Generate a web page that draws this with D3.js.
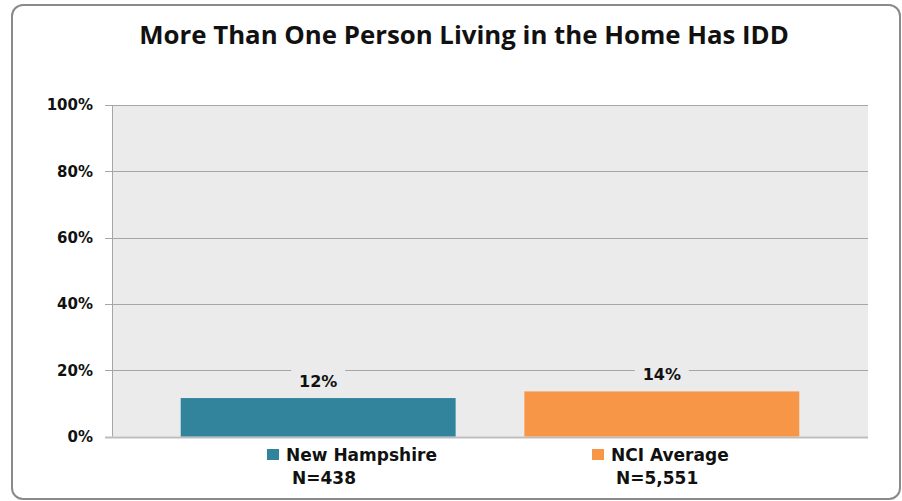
<!DOCTYPE html>
<html>
<head>
<meta charset="utf-8">
<script src="https://cdn.jsdelivr.net/npm/d3@7"></script>
<style>
body { margin: 0; background: #fff; }
</style>
</head>
<body>
<script>
var categories = ["New Hampshire", "NCI Average"];
var sampleSizes = ["N=438", "N=5,551"];
var values = [11.6, 13.6];
var valueLabels = ["12%", "14%"];
var yTicks = [0, 20, 40, 60, 80, 100];
var colors = ["#31849B", "#F79646"];

var width = 902, height = 501;
var plotLeft = 112, plotRight = 868, plotTop = 105, plotBottom = 436.5;

var svg = d3.select("body")
	.append("svg")
	.attr("width", width)
	.attr("height", height);

// outer frame
svg.append("rect")
	.attr("x", 12)
	.attr("y", 5)
	.attr("width", 888)
	.attr("height", 494)
	.attr("rx", 11)
	.attr("fill", "white")
	.attr("stroke", "#8a8a8a")
	.attr("stroke-width", 2);

svg.append("text")
	.attr("x", 464)
	.attr("y", 44)
	.attr("text-anchor", "middle")
	.attr("font-family", "Open Sans")
	.attr("font-weight", "bold")
	.attr("font-size", "25.8px")
	.attr("fill", "#111")
	.text("More Than One Person Living in the Home Has IDD");

var x = d3.scaleBand()
	.domain(categories)
	.range([plotLeft, plotRight])
	.paddingInner(0.2)
	.paddingOuter(0.2);

var y = d3.scaleLinear()
	.domain([0, 100])
	.range([plotBottom, plotTop]);

// plot background
svg.append("rect")
	.attr("x", plotLeft)
	.attr("y", plotTop)
	.attr("width", plotRight - plotLeft)
	.attr("height", plotBottom - plotTop)
	.attr("fill", "#EBEBEB");

// gridlines
svg.append("g")
	.selectAll("line")
	.data(yTicks)
	.join("line")
	.attr("x1", plotLeft - 7)
	.attr("x2", plotRight)
	.attr("y1", d => Math.round(y(d)) + 0.5)
	.attr("y2", d => Math.round(y(d)) + 0.5)
	.attr("stroke", d => d === 0 ? "#bdbdbd" : "#a6a6a6")
	.attr("stroke-width", d => d === 0 ? 2 : 1);

svg.append("line")
	.attr("x1", plotLeft + 0.5)
	.attr("x2", plotLeft + 0.5)
	.attr("y1", plotTop)
	.attr("y2", plotBottom)
	.attr("stroke", "#a6a6a6");

var yAxis = svg.append("g")
	.attr("transform", "translate(" + (plotLeft - 7) + ",0)")
	.call(d3.axisLeft(y).tickValues(yTicks).tickSize(0).tickPadding(12).tickFormat(d => d + "%"));
yAxis.select(".domain").remove();
yAxis.selectAll("text")
	.attr("font-family", "DejaVu Sans")
	.attr("font-weight", "bold")
	.attr("font-size", "15px")
	.attr("fill", "#111");

// bars
svg.append("g")
	.selectAll("rect")
	.data(values)
	.join("rect")
	.attr("x", (d, i) => x(categories[i]))
	.attr("y", d => y(d))
	.attr("width", x.bandwidth())
	.attr("height", d => y(0) - y(d))
	.attr("fill", (d, i) => colors[i]);

// value labels with background box
var labels = svg.append("g")
	.selectAll("g")
	.data(values)
	.join("g")
	.attr("transform", (d, i) => "translate(" + (x(categories[i]) + x.bandwidth() / 2) + "," + (y(d) - 17) + ")");

labels.append("rect")
	.attr("x", -27)
	.attr("y", -13)
	.attr("width", 54)
	.attr("height", 26)
	.attr("fill", "#EBEBEB");

labels.append("text")
	.attr("text-anchor", "middle")
	.attr("dy", "0.35em")
	.attr("font-family", "DejaVu Sans")
	.attr("font-weight", "bold")
	.attr("font-size", "16px")
	.attr("fill", "#111")
	.text((d, i) => valueLabels[i]);

// legend
var legendX = [267, 592];
var legend = svg.append("g")
	.selectAll("g")
	.data(categories)
	.join("g")
	.attr("transform", (d, i) => "translate(" + legendX[i] + ",449)");

legend.append("rect")
	.attr("width", 12)
	.attr("height", 11)
	.attr("fill", (d, i) => colors[i]);

legend.append("text")
	.attr("x", 19)
	.attr("y", 12)
	.attr("font-family", "DejaVu Sans")
	.attr("font-weight", "bold")
	.attr("font-size", "17px")
	.attr("fill", "#111")
	.text(d => d);

legend.append("text")
	.attr("x", (d, i) => i === 0 ? 25 : 24)
	.attr("y", 35)
	.attr("font-family", "DejaVu Sans")
	.attr("font-weight", "bold")
	.attr("font-size", "17px")
	.attr("fill", "#111")
	.text((d, i) => sampleSizes[i]);
</script>
</body>
</html>
